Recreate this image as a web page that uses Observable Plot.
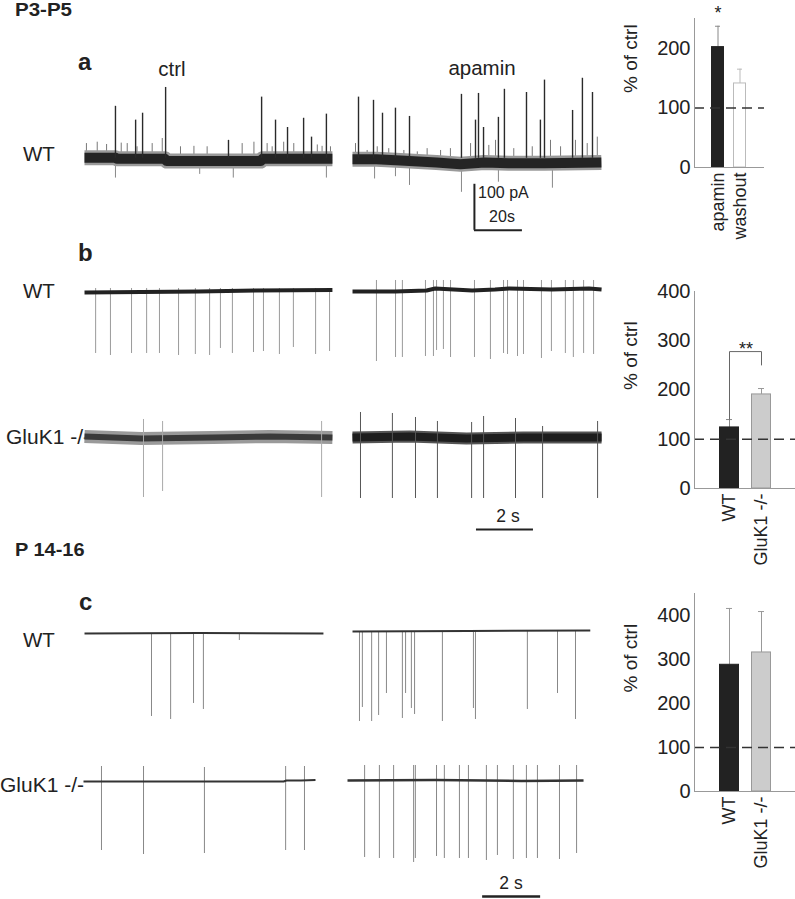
<!DOCTYPE html>
<html><head><meta charset="utf-8">
<script src="https://cdn.jsdelivr.net/npm/d3@7"></script>
<script src="https://cdn.jsdelivr.net/npm/@observablehq/plot@0.6"></script>
<style>
body{margin:0;background:#fff;}
#fig{position:relative;width:795px;height:899px;overflow:hidden;font-family:"Liberation Sans",Arial,sans-serif;color:#222;}
.lbl{position:absolute;white-space:nowrap;line-height:1;}
.pl{position:absolute;}
.pl svg{max-width:none;overflow:visible;background:transparent;}
</style></head><body><div id="fig"></div>
<script>
// ---------------- DATA ----------------
// Panel a (time in s, current in pA relative to ctrl baseline)
const aCtrlDur = 103.3;
const aCtrlBaseline = [[0,1],[13,1],[13.5,-1],[33.5,-1],[34.2,-6],[73.5,-6],[74.2,-1],[103.3,-1]];
const aCtrlEvents = [[12.9,113],[21.3,83],[24.2,98],[33.8,154],[60,39],[73.8,133],[79.6,83],[84.6,67],[91.3,87],[94.6,46],[100.8,96]];
const aCtrlMinor = [[0.8,32],[5.3,35],[9.2,30],[15.3,33],[17.8,32],[21.9,25],[28.2,32],[32.4,43],[40,25],[45.6,26],[51.1,25],[65.7,32],[70.6,35],[76.1,32],[78.2,25],[83,35],[87.2,32],[97,29],[99,26],[102.5,25]];
const aCtrlDown = [[12.9,-43],[48,-35],[62,-43],[100.8,-43]];
const aApaDur = 103.7;
const aApaBaseline = [[0,-2],[10,-2],[20,-5],[35,-9],[45,-13],[55,-9],[65,-11],[80,-11],[103.7,-9]];
const aApaEvents = [[2.5,133],[8.75,126],[12.5,98],[17.9,109],[23.75,91],[45.4,139],[51.25,83],[52.5,141],[54.6,67],[60.8,89],[63.3,150],[72.5,143],[78.3,83],[80,170],[91.7,104],[95.8,174],[100,143]];
const aApaMinor = [[1.25,32],[6.1,17],[10.3,25],[15.1,21],[21.4,17],[27,14],[31.1,21],[36.7,17],[40.8,21],[49.2,32],[56.8,28],[59.6,39],[67.2,21],[74.9,25],[82.5,39],[86.7,25],[92.9,39],[97.8,32],[102,46]];
const aApaDown = [[9.2,-45],[17.9,-40],[23.75,-59],[45.4,-74],[60.8,-52],[83.3,-65]];
const scaleA = {t: 50.8, y: -156.5, dt: 20, dy: 100}; // 20 s, 100 pA

// Panel b (time in s, amplitude in a.u.)
const bCtrlDur = 8.70, bApaDur = 8.74;
const bWtCtrlBaseline = [[0,0],[2,0.5],[4,1],[6,2],[8.7,2.5]];
const bWtCtrl = [[0.39,-61],[0.91,-63],[1.65,-61],[2.18,-61],[2.63,-61],[3.30,-63],[3.89,-62],[4.39,-63],[4.77,-56],[5.19,-61],[5.93,-60],[6.28,-59],[6.84,-62],[7.33,-55],[8.11,-62],[8.60,-59]];
const bWtApaBaseline = [[0,0],[1.5,0],[2.6,1],[2.9,3],[4.2,1],[5.0,2],[5.5,3],[7,2],[8.3,3],[8.74,2]];
const bWtApa = [[0.84,-70],[1.51,-66],[1.75,-66],[2.56,-65],[2.84,-65],[2.95,-59],[3.19,-58],[3.44,-66],[4.28,-66],[4.84,-68],[5.30,-62],[5.44,-63],[5.79,-65],[6.0,-63],[6.63,-67],[6.98,-60],[7.47,-62],[7.75,-66],[8.11,-62],[8.46,-63]];
const bKoCtrlBaseline = [[0,1],[2,-1],[4.5,0],[6.5,1],[8.7,0]];
const bKoCtrl = [[2.07,18,-60],[2.74,16,-54],[8.32,16,-60]];
const bKoApaBaseline = [[0,0],[2,1],[4,-1],[6,0],[8.74,0]];
const bKoApa = [[0.28,25,-61],[1.40,24,-61],[2.21,20,-61],[2.98,16,-61],[4.18,15,-61],[4.60,21,-61],[5.72,19,-61],[6.67,11,-61],[8.60,16,-61]];
const scaleB = {t: 4.35, y: -92, dt: 2};

// Panel c
const cWtCtrlDur = 8.24, cKoCtrlDur = 8.0, cWtApaDur = 8.2, cKoApaDur = 8.14;
const cWtCtrlBaseline = [[0,0],[4,0.5],[8.24,0]];
const cWtCtrl = [[2.31,-83],[2.97,-86],[3.76,-70],[4.10,-76],[5.34,-7]];
const cKoCtrlBaseline = [[0,0],[6.9,0],[7.0,1],[7.5,1],[8.0,1.5]];
const cKoCtrl = [[0.62,15,-69],[2.07,15,-73],[4.17,14,-72],[6.97,15,-69],[7.62,15,-69]];
const cWtApaBaseline = [[0,0],[4,0.5],[8.2,1]];
const cWtApa = [[0.24,-90],[0.34,-76],[0.66,-90],[0.90,-84],[1.17,-62],[1.72,-87],[1.83,-62],[2.03,-77],[2.14,-83],[3.10,-90],[4.17,-77],[4.24,-88],[6.03,-78],[7.07,-62],[7.69,-88]];
const cKoApaBaseline = [[0,0],[3,0.5],[6,-0.5],[8.14,0]];
const cKoApa = [[0.59,15,-77],[1.10,15,-78],[1.59,15,-78],[2.28,15,-82],[2.34,15,-78],[3.07,15,-76],[3.34,15,-78],[3.86,15,-78],[4.17,15,-78],[4.79,15,-80],[5.17,15,-75],[5.72,15,-79],[6.17,15,-78],[6.55,15,-78],[7.31,15,-79],[7.90,15,-73]];
const scaleC = {t: 4.66, y: -116, dt: 2};

// Bar charts (% of ctrl)
const aCats = ["apamin","washout"], aVals = [202,141], aErr = [237,165];
const bCats = ["WT","GluK1 -/-"], bVals = [124,191], bErr = [140,203];
const cCats = ["WT","GluK1 -/-"], cVals = [288,316], cErr = [416,409];
const aTicks = [0,100,200], bTicks = [0,100,200,300,400], cTicks = [0,100,200,300,400];
const bBracket = [["WT",140,"WT",278],["WT",278,"GluK1 -/-",278],["GluK1 -/-",278,"GluK1 -/-",250]];

// ---------------- LAYOUT ----------------
const fig = document.getElementById("fig");
const FONT = "Liberation Sans, Arial, sans-serif";
function place(el, left, top){ const d=document.createElement("div"); d.className="pl"; d.style.left=left+"px"; d.style.top=top+"px"; d.appendChild(el); fig.appendChild(d); }
function label(text, x, base, fs, o={}) {
  const d=document.createElement("div"); d.className="lbl"; d.textContent=text;
  d.style.fontSize=fs+"px"; if(o.bold) d.style.fontWeight="bold";
  d.style.top=(base-0.8465*fs)+"px"; d.style.left=x+"px";
  const tx = o.anchor==="middle"?"-50%":o.anchor==="end"?"-100%":"0";
  d.style.transformOrigin="left"; d.style.transform=`translateX(${tx}) scaleX(${o.sx||1})`;
  fig.appendChild(d);
}
const X = d=>d[0], Y = d=>d[1];
const flat = {strokeLinecap:"butt", strokeLinejoin:"round"};
function trace({left, baseY, kx, ky, dur, lo, hi, marks}) {
  const p = Plot.plot({width: dur*kx, height: (hi-lo)*ky, margin: 0,
    x:{domain:[0,dur], axis:null}, y:{domain:[lo,hi], axis:null},
    style:{background:"transparent", overflow:"visible"}, marks});
  place(p, left, baseY - hi*ky);
}
function bars({top, width, height, mTop, mBottom, cats, vals, errs, ticks, yMax, pi, po, fills, strokes, errStrokes, cap, extra=[]}) {
  const rows = cats.map((c,i)=>({cat:c, v:vals[i], e:errs[i]}));
  const p = Plot.plot({width, height, marginLeft:114, marginRight:0, marginTop:mTop, marginBottom:mBottom,
    style:{background:"transparent", overflow:"visible", fontFamily:FONT, color:"#222"},
    x:{domain:cats, paddingInner:pi, paddingOuter:po, label:null},
    y:{domain:[0,yMax], label:null},
    marks:[
      ...rows.map((r,i)=>Plot.ruleX([r], {x:"cat", y1:"v", y2:"e", stroke:errStrokes[i], strokeWidth:1})),
      ...rows.map((r,i)=>Plot.tickY([r], {x:"cat", y:"e", insetLeft:cap, insetRight:cap, stroke:errStrokes[i], strokeWidth:1})),
      ...rows.map((r,i)=>Plot.barY([r], {x:"cat", y:"v", fill:fills[i], stroke:strokes[i], strokeWidth:1, insetLeft:0.5, insetRight:0.5})),
      Plot.ruleY([100], {stroke:"#333", strokeWidth:1.5, strokeDasharray:"10,6"}),
      Plot.ruleY([0], {stroke:"#999"}),
      Plot.frame({anchor:"left", stroke:"#999"}),
      Plot.axisY({ticks, tickSize:0, tickPadding:4, label:null, fontSize:20}),
      Plot.axisX({tickSize:0, tickRotate:-90, tickPadding:5, label:null, fontSize:18}),
      Plot.text(["% of ctrl"], {frameAnchor:"left", rotate:-90, dx:-64, fontSize:19, fill:"#222"}),
      ...extra
    ]});
  place(p, 580, top);
}

// ---------------- TEXT ----------------
label("P3-P5", 15, 16.5, 19, {bold:true, sx:1.08});
label("a", 78, 70, 24, {bold:true});
label("ctrl", 172, 76, 20.5, {anchor:"middle"});
label("apamin", 482, 75, 20.5, {anchor:"middle"});
label("WT", 23, 161, 20.5);
label("100 pA", 478, 199, 16);
label("20s", 502, 223, 16, {anchor:"middle"});
label("b", 78, 261, 24, {bold:true});
label("WT", 23, 298, 20.5);
label("GluK1 -/-", 6, 444, 21);
label("2 s", 508, 523, 17.5, {anchor:"middle"});
label("P 14-16", 15, 556, 19, {bold:true, sx:1.05});
label("c", 79, 610, 24, {bold:true});
label("WT", 23, 647, 20.5);
label("GluK1 -/-", 0, 792, 21);
label("2 s", 511, 890, 17.5, {anchor:"middle"});

// ---------------- TRACES ----------------
// a: 2.4 px/s, 0.46 px/pA
const ka = {kx:2.4, ky:0.46};
trace({left:84, baseY:158, ...ka, dur:aCtrlDur, lo:-60, hi:180, marks:[
  Plot.ruleX(aCtrlDown, {x:X, y1:0, y2:Y, stroke:"#888", strokeWidth:1}),
  Plot.ruleX(aCtrlMinor, {x:X, y1:0, y2:Y, stroke:"#777", strokeWidth:1}),
  Plot.line(aCtrlBaseline, {x:X, y:Y, stroke:"#9a9a9a", strokeWidth:15, ...flat}),
  Plot.line(aCtrlBaseline, {x:X, y:Y, stroke:"#242424", strokeWidth:10, ...flat}),
  Plot.ruleX(aCtrlEvents, {x:X, y1:0, y2:Y, stroke:"#2a2a2a", strokeWidth:1.4})
]});
trace({left:352, baseY:158, ...ka, dur:aApaDur, lo:-160, hi:180, marks:[
  Plot.ruleX(aApaDown, {x:X, y1:0, y2:Y, stroke:"#888", strokeWidth:1}),
  Plot.ruleX(aApaMinor, {x:X, y1:0, y2:Y, stroke:"#777", strokeWidth:1}),
  Plot.line(aApaBaseline, {x:X, y:Y, stroke:"#9a9a9a", strokeWidth:15, ...flat}),
  Plot.line(aApaBaseline, {x:X, y:Y, stroke:"#242424", strokeWidth:10, ...flat}),
  Plot.ruleX(aApaEvents, {x:X, y1:0, y2:Y, stroke:"#2a2a2a", strokeWidth:1.4}),
  Plot.ruleX([scaleA], {x:"t", y1:"y", y2:d=>d.y+d.dy, stroke:"#222", strokeWidth:2}),
  Plot.ruleY([scaleA], {y:"y", x1:"t", x2:d=>d.t+d.dt, stroke:"#222", strokeWidth:2})
]});

// b: 28.5 px/s, 1 px/unit
const kb = {kx:28.5, ky:1};
trace({left:84, baseY:292, ...kb, dur:bCtrlDur, lo:-70, hi:15, marks:[
  Plot.ruleX(bWtCtrl, {x:X, y1:4, y2:Y, stroke:"#9a9a9a", strokeWidth:1}),
  Plot.line(bWtCtrlBaseline, {x:X, y:Y, stroke:"#222", strokeWidth:4, ...flat})
]});
trace({left:352, baseY:291, ...kb, dur:bApaDur, lo:-75, hi:20, marks:[
  Plot.ruleX(bWtApa, {x:X, y1:11, y2:Y, stroke:"#999", strokeWidth:1}),
  Plot.line(bWtApaBaseline, {x:X, y:Y, stroke:"#222", strokeWidth:4, ...flat})
]});
trace({left:84, baseY:437, ...kb, dur:bCtrlDur, lo:-65, hi:25, marks:[
  Plot.line(bKoCtrlBaseline, {x:X, y:Y, stroke:"#9a9a9a", strokeWidth:13, ...flat}),
  Plot.line(bKoCtrlBaseline, {x:X, y:Y, stroke:"#3a3a3a", strokeWidth:6, ...flat}),
  Plot.ruleX(bKoCtrl, {x:X, y1:Y, y2:d=>d[2], stroke:"#aaa", strokeWidth:1})
]});
trace({left:352, baseY:437, ...kb, dur:bApaDur, lo:-95, hi:30, marks:[
  Plot.line(bKoApaBaseline, {x:X, y:Y, stroke:"#555", strokeWidth:12, ...flat}),
  Plot.line(bKoApaBaseline, {x:X, y:Y, stroke:"#1e1e1e", strokeWidth:8, ...flat}),
  Plot.ruleX(bKoApa, {x:X, y1:Y, y2:d=>d[2], stroke:"#555", strokeWidth:1}),
  Plot.ruleY([scaleB], {y:"y", x1:"t", x2:d=>d.t+d.dt, stroke:"#222", strokeWidth:2})
]});

// c: 29 px/s, 1 px/unit
const kc = {kx:29, ky:1};
trace({left:84, baseY:633, ...kc, dur:cWtCtrlDur, lo:-95, hi:10, marks:[
  Plot.ruleX(cWtCtrl, {x:X, y1:0, y2:Y, stroke:"#888", strokeWidth:1}),
  Plot.line(cWtCtrlBaseline, {x:X, y:Y, stroke:"#333", strokeWidth:2, ...flat})
]});
trace({left:352, baseY:631, ...kc, dur:cWtApaDur, lo:-95, hi:10, marks:[
  Plot.ruleX(cWtApa, {x:X, y1:0, y2:Y, stroke:"#888", strokeWidth:1}),
  Plot.line(cWtApaBaseline, {x:X, y:Y, stroke:"#333", strokeWidth:2, ...flat})
]});
trace({left:83, baseY:781, ...kc, dur:cKoCtrlDur, lo:-80, hi:20, marks:[
  Plot.ruleX(cKoCtrl, {x:X, y1:Y, y2:d=>d[2], stroke:"#888", strokeWidth:1}),
  Plot.line(cKoCtrlBaseline, {x:X, y:Y, stroke:"#333", strokeWidth:2, ...flat})
]});
trace({left:347, baseY:780, ...kc, dur:cKoApaDur, lo:-120, hi:20, marks:[
  Plot.ruleX(cKoApa, {x:X, y1:Y, y2:d=>d[2], stroke:"#888", strokeWidth:1}),
  Plot.line(cKoApaBaseline, {x:X, y:Y, stroke:"#333", strokeWidth:2.5, ...flat}),
  Plot.ruleY([scaleC], {y:"y", x1:"t", x2:d=>d.t+d.dt, stroke:"#222", strokeWidth:2.5})
]});

// ---------------- BAR CHARTS ----------------
bars({top:0, width:184, height:242, mTop:18, mBottom:75, cats:aCats, vals:aVals, errs:aErr, ticks:aTicks, yMax:250,
  pi:0.39, po:0.72, fills:["#222","#fff"], strokes:["#222","#bbb"], errStrokes:["#888","#bbb"], cap:4,
  extra:[Plot.text(["*"], {x:()=>aCats[0], y:()=>258, fontSize:18, fill:"#222"})]});
bars({top:230, width:215, height:360, mTop:61, mBottom:102, cats:bCats, vals:bVals, errs:bErr, ticks:bTicks, yMax:400,
  pi:0.39, po:0.73, fills:["#222","#ccc"], strokes:["#222","#999"], errStrokes:["#888","#999"], cap:7,
  extra:[Plot.link(bBracket, {x1:d=>d[0], y1:d=>d[1], x2:d=>d[2], y2:d=>d[3], stroke:"#666", strokeWidth:1}),
         Plot.text(["**"], {x:()=>bCats[0], y:()=>282, dx:16.5, fontSize:18, fill:"#222", stroke:"white", strokeWidth:4})]});
bars({top:560, width:215, height:339, mTop:33, mBottom:108, cats:cCats, vals:cVals, errs:cErr, ticks:cTicks, yMax:450,
  pi:0.39, po:0.73, fills:["#222","#ccc"], strokes:["#222","#999"], errStrokes:["#999","#999"], cap:7});
</script></body></html>
